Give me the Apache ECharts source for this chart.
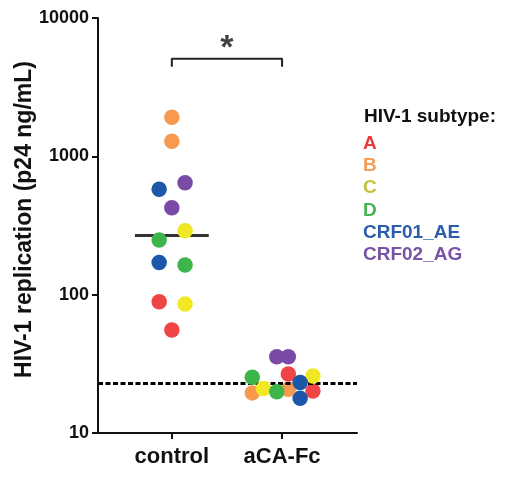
<!DOCTYPE html>
<html>
<head>
<meta charset="utf-8">
<script src="https://cdn.jsdelivr.net/npm/echarts@6/dist/echarts.min.js"></script>
<style>html,body{margin:0;padding:0;background:#fff;}#c{width:508px;height:479px;}</style>
</head>
<body>
<div id="c"></div>
<script>
// ---- data ----
var categories = ['control', 'aCA-Fc'];
var yTicks = [10, 100, 1000, 10000];
var subtypes = ['A', 'B', 'C', 'D', 'CRF01_AE', 'CRF02_AG'];
var dotColors = ['#EF4545', '#F7994E', '#F0E825', '#3DB54A', '#1C57A9', '#7A4BA6'];
var textColors = ['#E93A3E', '#F59D57', '#C5C238', '#45B54D', '#2B5EAA', '#7A52A6'];
// per subtype: [x offset within group, value]
var controlValues = [
  [[-0.115, 89], [0, 55.6]],
  [[0, 1914], [0, 1285]],
  [[0.12, 290], [0.12, 85.6]],
  [[-0.115, 248], [0.12, 164]],
  [[-0.115, 578], [-0.115, 171]],
  [[0.12, 645], [0, 425]]
];
var acaValues = [
  [[0.057, 26.7], [0.28, 20.1]],
  [[-0.27, 19.5], [0.057, 20.7]],
  [[-0.17, 21.0], [0.28, 25.8]],
  [[-0.27, 25.3], [-0.048, 19.9]],
  [[0.164, 23.2], [0.164, 17.8]],
  [[-0.048, 35.6], [0.057, 35.6]]
];
var controlMedian = 268;
var medianHalfWidth = 0.335;
var detectionLimit = 22.9;
var bracketTop = 5080;
var bracketEnd = 4446;
var significance = '*';

var FONT = 'Liberation Sans';

var series = [];
subtypes.forEach(function (name, i) {
  var pts = [];
  controlValues[i].forEach(function (p) { pts.push([1 + p[0], p[1]]); });
  acaValues[i].forEach(function (p) { pts.push([2 + p[0], p[1]]); });
  series.push({
    name: name,
    type: 'scatter',
    data: pts,
    symbolSize: 15.5,
    itemStyle: { color: dotColors[i], opacity: 1 },
    z: 3 + i
  });
});
// median line
series.push({
  type: 'line', name: 'median', data: [[1 - medianHalfWidth, controlMedian], [1 + medianHalfWidth, controlMedian]],
  symbol: 'none', lineStyle: { color: '#333', width: 3 }, z: 2, silent: true,
  markLine: {
    silent: true, symbol: 'none', label: { show: false },
    lineStyle: { color: '#000', width: 3, type: [5, 2.5] },
    data: [{ yAxis: detectionLimit }]
  }
});
// significance bracket
series.push({
  type: 'line', name: 'bracket',
  data: [[1, bracketEnd], [1, bracketTop], [2, bracketTop], [2, bracketEnd]],
  symbol: 'none', lineStyle: { color: '#222', width: 2 }, z: 2, silent: true
});
series.push({
  type: 'scatter', name: 'sig', data: [[1.5, bracketTop]], symbolSize: 0, silent: true,
  label: { show: true, position: 'top', distance: -7, formatter: significance,
    color: '#111', fontSize: 34, fontWeight: 'bold', fontFamily: FONT }
});

var chart = echarts.init(document.getElementById('c'));
chart.setOption({
  animation: false,
  backgroundColor: '#fff',
  title: {
    text: 'HIV-1 subtype:', left: 364, top: 107, padding: 0,
    textStyle: { fontFamily: FONT, fontWeight: 'bold', fontSize: 19, color: '#111' }
  },
  legend: {
    orient: 'vertical', left: 358, top: 131, padding: 0,
    icon: 'none', itemWidth: 0, itemHeight: 25, itemGap: 0.3,
    selectedMode: false,
    data: subtypes.map(function (s, i) {
      return { name: s, textStyle: { color: textColors[i] } };
    }),
    textStyle: { fontFamily: FONT, fontWeight: 'bold', fontSize: 19 }
  },
  grid: { left: 98, right: 151, top: 18, bottom: 46, containLabel: false, outerBoundsMode: 'none' },
  xAxis: {
    type: 'value', min: 0.33, max: 2.68,
    splitLine: { show: false },
    axisLine: { show: true, lineStyle: { color: '#111', width: 2 } },
    axisTick: { show: true, length: 6, lineStyle: { color: '#111', width: 2 }, customValues: [1, 2] },
    axisLabel: {
      customValues: [1, 2], margin: 13,
      formatter: function (v) { return categories[Math.round(v) - 1]; },
      fontFamily: FONT, fontWeight: 'bold', fontSize: 22, color: '#111'
    }
  },
  yAxis: {
    type: 'log', logBase: 10, min: yTicks[0], max: yTicks[yTicks.length - 1],
    name: 'HIV-1 replication (p24 ng/mL)', nameLocation: 'middle', nameGap: 62,
    nameMoveOverlap: false,
    nameTextStyle: { fontFamily: FONT, fontWeight: 'bold', fontSize: 23, color: '#111',
      padding: [0, 0, 0, 12] },
    splitLine: { show: false },
    minorTick: { show: false },
    axisLine: { show: true, lineStyle: { color: '#111', width: 2 } },
    axisTick: { show: true, length: 6, lineStyle: { color: '#111', width: 2 } },
    axisLabel: { margin: 9, fontFamily: FONT, fontWeight: 'bold', fontSize: 18, color: '#111',
      formatter: function (v) { return String(Math.round(v)); } }
  },
  series: series
});
</script>
</body>
</html>
